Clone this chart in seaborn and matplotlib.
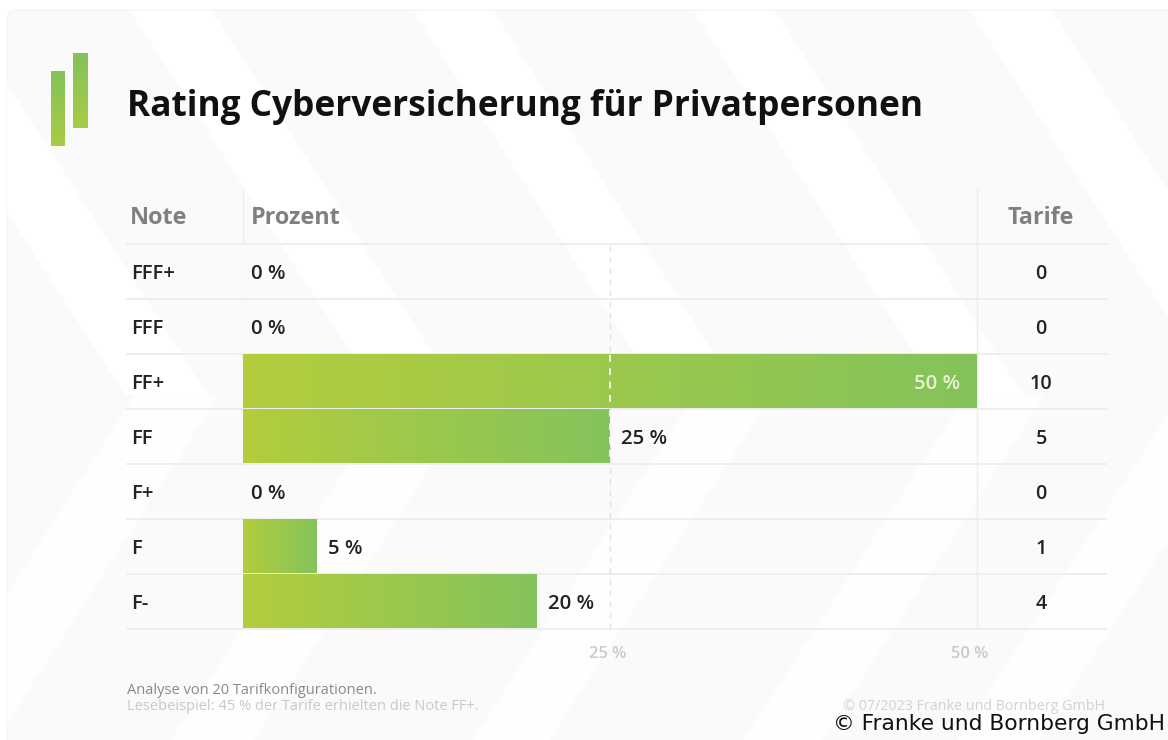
import matplotlib
matplotlib.use("Agg")
import matplotlib.pyplot as plt
from matplotlib.colors import LinearSegmentedColormap
from matplotlib.patches import FancyBboxPatch
from matplotlib.transforms import ScaledTranslation
import numpy as np
import pandas as pd
import seaborn as sns

# Rating table contents
grades = ["FFF+", "FFF", "FF+", "FF", "F+", "F", "F-"]
percent = [0, 0, 50, 25, 0, 5, 20]
tariffs = [0, 0, 10, 5, 0, 1, 4]
axis_ticks = [25, 50]
axis_labels = ["25 %", "50 %"]
title_text = "Rating Cyberversicherung für Privatpersonen"
note_lines = ["Analyse von 20 Tarifkonfigurationen.",
              "Lesebeispiel: 45 % der Tarife erhielten die Note FF+."]
copyright_inner = "© 07/2023 Franke und Bornberg GmbH"
copyright_outer = "© Franke und Bornberg GmbH"

W, H = 1168, 740
sns.set_theme(style="white")
plt.rcParams["font.family"] = ["Open Sans", "DejaVu Sans"]

fig = plt.figure(figsize=(W / 100, H / 100), dpi=100, facecolor="white")

# Backdrop layer in pixel units: card, chevron stripes, logo, free text
bg = fig.add_axes([0, 0, 1, 1], zorder=0)
bg.set_xlim(0, W)
bg.set_ylim(H, 0)
bg.axis("off")

card = FancyBboxPatch((7, 10), W + 40, H + 40, boxstyle="round,pad=0,rounding_size=9",
                      facecolor="#fafafa", edgecolor="#f4f4f4", linewidth=0.8)
bg.add_patch(card)

TIP_Y, SLOPE, TOP_Y, BOTTOM_Y = 395, 1.55, 11, H
upper_tips = [(125, 208), (378, 460), (661, 741), (941, 1023), (1218, 1300)]
lower_tips = [(135, 219), (393, 477), (695, 772), (966, 1045), (1180, 1262)]
for left, right in upper_tips:
    dx = (TIP_Y - TOP_Y) / SLOPE
    bg.fill([left - dx, right - dx, right, left], [TOP_Y, TOP_Y, TIP_Y, TIP_Y],
            color="white", lw=0, clip_path=card)
for left, right in lower_tips:
    dx = (BOTTOM_Y - TIP_Y) / SLOPE
    bg.fill([left, right, right - dx, left - dx], [TIP_Y, TIP_Y, BOTTOM_Y, BOTTOM_Y],
            color="#fefefe", lw=0, clip_path=card)

# Logo: two short bars with a vertical gradient
logo_map = LinearSegmentedColormap.from_list("logo", ["#84c25a", "#a9cb45"])
for x0, x1, y0, y1 in [(51, 65, 71, 146), (73, 88, 53, 128)]:
    bg.imshow(np.linspace(0, 1, 64).reshape(-1, 1), extent=(x0, x1, y1, y0),
              cmap=logo_map, aspect="auto", zorder=3)
bg.set_xlim(0, W)
bg.set_ylim(H, 0)

bg.text(127, 107, title_text, fontsize=25.4, fontweight="bold", color="#111111",
        va="center", ha="left")
bg.text(127, 691, note_lines[0], fontsize=10.5, color="#8a8a8a", va="center")
bg.text(127, 707, note_lines[1], fontsize=10.5, color="#c9c9c9", va="center")
bg.text(1105, 707, copyright_inner, fontsize=10.3, color="#d2d2d2", va="center", ha="right")
bg.text(833, 724, copyright_outer, fontsize=15.7, color="#111111", va="center", ha="left",
        family="DejaVu Sans")

# Chart layer: x runs 0-50 % across the bar column, one row per grade
ax = fig.add_axes([243 / W, 1 - 629 / H, 734 / W, 385 / H], zorder=1)
ax.patch.set_alpha(0)
df = pd.DataFrame({"Note": grades, "Prozent": percent})
sns.barplot(data=df, y="Note", x="Prozent", orient="h", order=grades, width=0.965,
            color="#9ac850", saturation=1, ax=ax, zorder=2)
ax.set_xlim(0, 50)
ax.set_ylim(len(grades) - 0.5, -0.5)
ax.set_xlabel("")
ax.set_ylabel("")
sns.despine(ax=ax, left=True, bottom=True)

# Every bar fades from yellow-green to green along its own length
bar_map = LinearSegmentedColormap.from_list("bars", ["#b3cd3d", "#84c35b"])
gradient = np.linspace(0, 1, 256).reshape(1, -1)
for patch in list(ax.patches):
    if patch.get_width() <= 0:
        continue
    x0, y0 = patch.get_x(), patch.get_y()
    ax.imshow(gradient, extent=(x0, x0 + patch.get_width(), y0 + patch.get_height(), y0),
              cmap=bar_map, aspect="auto", zorder=2)
    patch.set_visible(False)
ax.set_xlim(0, 50)
ax.set_ylim(len(grades) - 0.5, -0.5)

# Table rules reach beyond the bar column on both sides
rule_color = "#ededed"
row_edges = np.arange(len(grades) + 1) - 0.5
ax.hlines(row_edges, -0.159, 1.177, transform=ax.get_yaxis_transform(),
          color=rule_color, lw=1.3, clip_on=False, zorder=1)
ax.vlines([0, 50], 0, 1.145, transform=ax.get_xaxis_transform(),
          color=rule_color, lw=1.0, clip_on=False, zorder=1)
ax.vlines(axis_ticks[0], 0, 1, transform=ax.get_xaxis_transform(), color="#e2e2e2", lw=1,
          linestyles=(0, (4, 4)), zorder=1)
# White dashes where the 25 % guide crosses a bar that reaches it
for i, value in enumerate(percent):
    if value >= axis_ticks[0]:
        ax.vlines(axis_ticks[0], i - 0.48, i + 0.48, color="white", lw=1.2,
                  linestyles=(0, (4, 4)), zorder=3)

# Value labels beside each bar, inside for the one that fills the column
for i, value in enumerate(percent):
    inside = value >= 50
    offset = -12 if inside else (6 if value == 0 else 8)
    ax.annotate(f"{value} %", (value, i), xytext=(offset, -1.8), textcoords="offset points",
                ha="right" if inside else "left", va="center", fontsize=14.7,
                fontweight="semibold", color="#e8f3d4" if inside else "#222222", zorder=4)

# Grade column and tariff column
ax.set_yticks(range(len(grades)), grades, fontsize=14.7, fontweight="semibold", color="#222222", ha="left")
ax.tick_params(axis="y", length=0, pad=(243 - 131) * 0.72)
for i, count in enumerate(tariffs):
    ax.annotate(str(count), (1.0872, i), xycoords=ax.get_yaxis_transform(), xytext=(0, -1.6),
                textcoords="offset points", ha="center", va="center", fontsize=14.2,
                fontweight="semibold", color="#222222", annotation_clip=False)

# Axis ticks sit a little left of their guides
ax.set_xticks(axis_ticks, axis_labels, fontsize=11.9, fontweight="semibold", color="#cacaca")
ax.tick_params(axis="x", length=0, pad=12)
for lbl, shift in zip(ax.get_xticklabels(), [-2, -7]):
    lbl.set_transform(lbl.get_transform() + ScaledTranslation(shift / 100, 0, fig.dpi_scale_trans))

# Column headers
for label, xpos, align in [("Note", -0.1535, "left"), ("Prozent", 0.0105, "left"), ("Tarife", 1.0872, "center")]:
    ax.text(xpos, 1.0 + 26 / 385, label, transform=ax.transAxes, ha=align, va="center",
            fontsize=16.8, fontweight="bold", color="#808080", clip_on=False)

fig.savefig("out.png", dpi=100)
